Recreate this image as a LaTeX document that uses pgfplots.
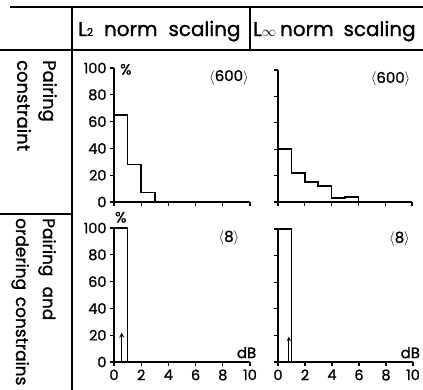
\documentclass[border=0pt]{standalone}
\usepackage{pgfplots}
\pgfplotsset{compat=1.18}
\usepackage{fontspec}
\setmainfont{Poppins}[FakeBold=1.2]
\pgfplotsset{
  hist/.style={
    scale only axis, width=136bp, height=134bp,
    xmin=0, xmax=10, ymin=0, ymax=100,
    axis x line=bottom, axis y line=left,
    axis line style={-, line width=1.5bp},
    xtick={0,2,...,10}, ytick={0,20,...,100},
    tick align=outside, major tick length=4bp,
    tick style={line width=1.3bp, black},
    tick label style={font=\fontsize{14.5}{14.5}\selectfont},
    /pgf/number format/assume math mode=true,
    clip=false, anchor=south west,
  },
  bars/.style={const plot, line width=1.6bp, black, mark=none},
}
\begin{document}
\begin{tikzpicture}
% table rules
\draw[line width=1.6bp] (10bp,-7bp) -- (423bp,-7bp);
\draw[line width=1.6bp] (0bp,-50bp) -- (423bp,-50bp);
\draw[line width=1.6bp] (72bp,-7bp) -- (72bp,-390bp);
\draw[line width=1.6bp] (250bp,-7bp) -- (250bp,-50bp);
\draw[line width=1.6bp] (0bp,-214bp) -- (72bp,-214bp);
% headers
\node[anchor=base west, inner sep=0pt, font=\fontsize{20}{20}\selectfont] at (78bp,-36bp)
  {L{\fontsize{11}{11}\selectfont 2}\hspace{0.55em}norm\hspace{0.55em}scaling};
\node[anchor=base west, inner sep=0pt, font=\fontsize{20}{20}\selectfont] at (253bp,-36bp)
  {L{\fontsize{15}{15}\selectfont$\infty$}\hspace{0.2em}norm\hspace{0.5em}scaling};
% row labels
\node[rotate=-90, anchor=north west, inner sep=0pt, align=left, font=\fontsize{18}{26}\selectfont]
  at (57bp,-60bp) {Pairing\\constraint};
\node[rotate=-90, anchor=north west, inner sep=0pt, align=left, font=\fontsize{17}{27}\selectfont]
  at (56bp,-218bp) {Pairing\hspace{0.6em}and\\ordering\hspace{0.4em}constrains};

% panel 1
\begin{axis}[hist, at={(114bp,-202bp)}, xticklabels={}]
  \addplot[bars] coordinates {(0,65) (1,28) (2,7) (3,0)};
  \node[anchor=west, font=\fontsize{15}{15}\selectfont] at (axis cs:0.2,99) {\%};
  \node[font=\fontsize{15}{15}\selectfont] at (axis cs:8.45,93) {$\langle$600$\rangle$};
\end{axis}
% panel 2
\begin{axis}[hist, at={(278bp,-202bp)}, width=134bp, height=132bp, xticklabels={}, yticklabels={}]
  \addplot[bars] coordinates {(0,40) (1,22) (2,15) (3,12) (4,3) (5,4) (6,0)};
  \node[font=\fontsize{15}{15}\selectfont] at (axis cs:8.4,93) {$\langle$600$\rangle$};
\end{axis}
% panel 3
\begin{axis}[hist, at={(114bp,-362bp)}]
  \addplot[bars] coordinates {(0,100) (1,0)};
  \addplot[->, >=stealth, line width=1.3bp, black] coordinates {(0.57,0) (0.57,22)};
  \node[font=\fontsize{15}{15}\selectfont] at (axis cs:0.5,108) {\%};
  \node[font=\fontsize{15}{15}\selectfont] at (axis cs:8.45,92.5) {$\langle$8$\rangle$};
  \node[font=\fontsize{15}{15}\selectfont] at (axis cs:9.75,7) {dB};
\end{axis}
% panel 4
\begin{axis}[hist, at={(278bp,-362bp)}, width=135bp, height=133bp, yticklabels={}]
  \addplot[bars] coordinates {(0,100) (1,0)};
  \addplot[->, >=stealth, line width=1bp, black] coordinates {(0.8,0) (0.8,19)};
  \node[font=\fontsize{15}{15}\selectfont] at (axis cs:9.0,92.5) {$\langle$8$\rangle$};
  \node[font=\fontsize{15}{15}\selectfont] at (axis cs:9.8,7) {dB};
\end{axis}
\pgfresetboundingbox
\useasboundingbox (0bp,0bp) rectangle (423bp,-390bp);
\end{tikzpicture}
\end{document}
